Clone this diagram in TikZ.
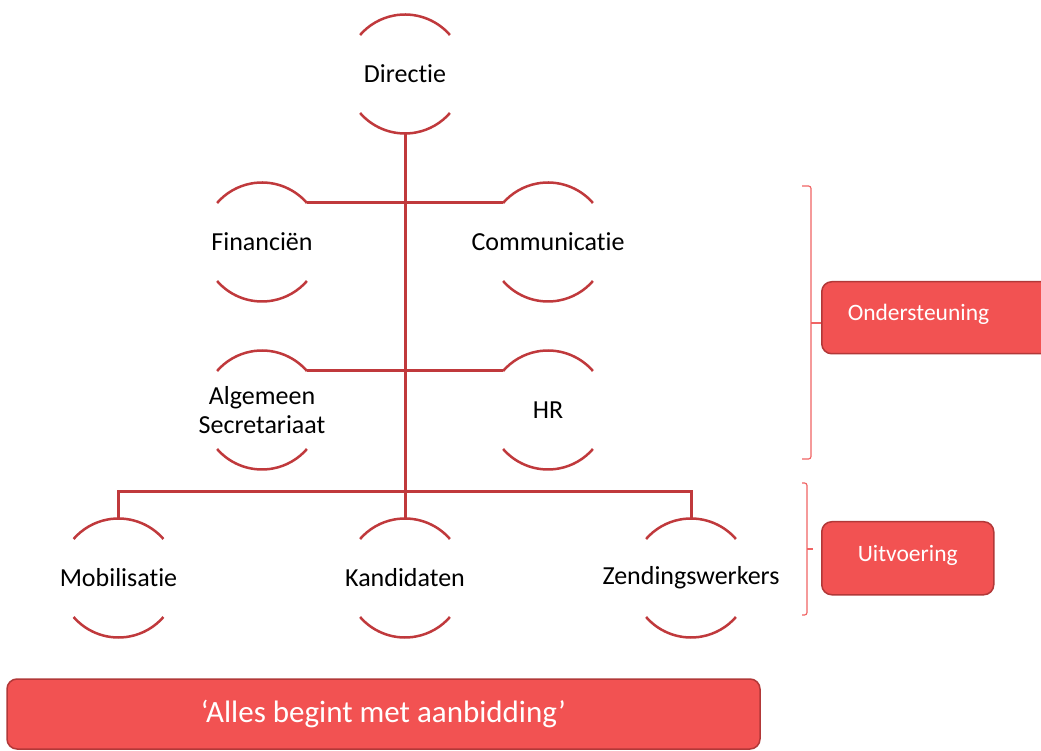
\documentclass[tikz,border=0pt]{standalone}
\usepackage{fontspec}
\setmainfont{Carlito}[Ligatures={NoCommon,NoRare,NoContextual}]
\usetikzlibrary{calc}
\definecolor{arcred}{RGB}{192,57,60}
\definecolor{boxfill}{RGB}{242,82,82}
\definecolor{boxline}{RGB}{178,56,56}
\definecolor{brkred}{RGB}{240,100,100}
\tikzset{
  orgnode/.style={circle, minimum size=119pt, inner sep=0pt, outer sep=0pt},
  orgtext/.style={align=center, font=\fontsize{26}{29}\selectfont, text=black, inner sep=0pt},
  arcline/.style={draw=arcred, line width=2.5pt},
  conn/.style={draw=arcred, line width=3pt},
  redbox/.style={draw=boxline, fill=boxfill, line width=1.5pt, rounded corners=10pt, text=white},
  sidebox/.style={redbox, font=\fontsize{23.5}{28}\selectfont, text height=17.5pt, text depth=11pt},
  brk/.style={draw=brkred, line width=1.2pt, rounded corners=2.5pt},
}
\begin{document}
\begin{tikzpicture}[x=1pt,y=1pt]
\path[use as bounding box, clip] (0,0) rectangle (1041,750);
\fill[white] (0,0) rectangle (1041,750);
% nodes
\node[orgnode, label={[orgtext]center:Directie}] (dir) at (405,676) {};
\node[orgnode, label={[orgtext]center:Financiën}] (fin) at (262,508) {};
\node[orgnode, label={[orgtext]center:Communicatie}] (com) at (548,508) {};
\node[orgnode, label={[orgtext]center:Algemeen\\Secretariaat}] (alg) at (262,340) {};
\node[orgnode, label={[orgtext]center:HR}] (hr)  at (548,340) {};
\node[orgnode, label={[orgtext]center:Mobilisatie}] (mob) at (118.5,172) {};
\node[orgnode, label={[orgtext]center:Kandidaten}] (kan) at (405,172) {};
\node[orgnode, label={[orgtext]center:Zendingswerkers}] (zen) at (691,172) {};
% arcs
\foreach \n in {dir,fin,com,alg,hr,mob,kan,zen}{
  \draw[arcline] (\n.41) arc[start angle=41, end angle=139, radius=59.5];
  \draw[arcline] (\n.221) arc[start angle=221, end angle=319, radius=59.5];
}
% connectors
\draw[conn] (dir.south) -- (kan.north);
\draw[conn] (fin.41) -- (com.139);
\draw[conn] (alg.41) -- (hr.139);
\draw[conn] (mob.north) -- ++(0,26.5) -| (zen.north);
% side boxes
\node[sidebox, anchor=north west, minimum height=72pt, text width=190pt, align=left, inner xsep=26pt] (ond) at (821,469) {Ondersteuning};
\node[sidebox, anchor=north west, minimum height=73pt, minimum width=172pt] (uit) at (821,229) {Uitvoering};
% brackets
\coordinate (b1) at (811,427);
\draw[brk] (802,564) -- (811,564) -- (811,291) -- (802,291);
\draw[brk] (b1) -- (b1 -| ond.west);
\coordinate (b2) at (807,201);
\draw[brk] (802,267) -- (807,267) -- (807,135) -- (802,135);
\draw[brk] (b2) -- ++(5.5,0);
% bottom box
\node[redbox, minimum width=753pt, minimum height=70pt, font=\fontsize{31}{36}\selectfont] (motto) at (383.5,36) {‘Alles begint met aanbidding’};
\end{tikzpicture}
\end{document}
